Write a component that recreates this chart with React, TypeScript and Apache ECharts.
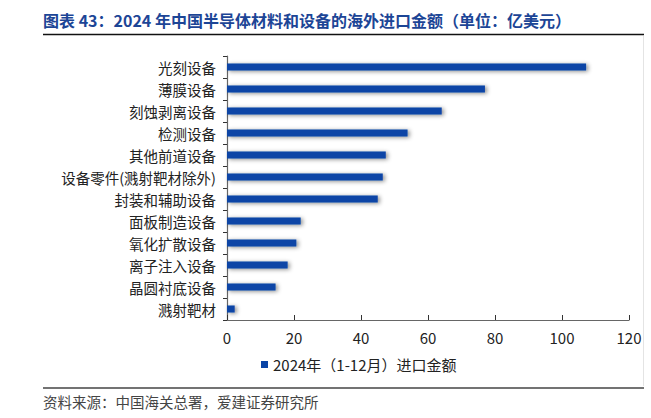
import React, { useEffect, useRef } from "react";
import * as echarts from "echarts";

const categories = [
  "光刻设备",
  "薄膜设备",
  "刻蚀剥离设备",
  "检测设备",
  "其他前道设备",
  "设备零件(溅射靶材除外)",
  "封装和辅助设备",
  "面板制造设备",
  "氧化扩散设备",
  "离子注入设备",
  "晶圆衬底设备",
  "溅射靶材",
];
const values = [107.2, 77.0, 64.1, 53.9, 47.4, 46.5, 45.0, 22.0, 20.7, 18.1, 14.5, 2.3];
const seriesName = "2024年（1-12月）进口金额";
const xTicks = [0, 20, 40, 60, 80, 100, 120];
const titleText = "图表 43：2024 年中国半导体材料和设备的海外进口金额（单位：亿美元）";
const sourceText = "资料来源：中国海关总署，爱建证券研究所";

const FONT = "'Noto Sans CJK SC', 'Microsoft YaHei', sans-serif";

export default function App() {
  const ref = useRef<HTMLDivElement>(null);
  useEffect(() => {
    if (!ref.current) return;
    const chart = echarts.init(ref.current, undefined, { renderer: "svg" });
    chart.setOption({
      animation: false,
      backgroundColor: "#ffffff",
      textStyle: { fontFamily: FONT },
      grid: { left: 227, right: 22, top: 56, bottom: 98, containLabel: false },
      legend: {
        data: [seriesName],
        left: 256,
        top: 352,
        icon: "rect",
        itemWidth: 7,
        itemHeight: 7,
        itemGap: 6,
        textStyle: { fontSize: 15, color: "#222", fontFamily: FONT },
      },
      xAxis: {
        type: "value",
        min: xTicks[0],
        max: xTicks[xTicks.length - 1],
        interval: 20,
        axisLine: { show: true, lineStyle: { color: "#666", width: 1.2 } },
        axisTick: { show: true, inside: true, length: 5, lineStyle: { color: "#333" } },
        splitLine: { show: false },
        axisLabel: { fontSize: 15, color: "#222", margin: 10, fontFamily: FONT },
      },
      yAxis: {
        type: "category",
        inverse: true,
        data: categories,
        axisLine: { show: true, lineStyle: { color: "#666", width: 1.2 } },
        axisTick: { show: true, inside: false, length: 4, lineStyle: { color: "#333" } },
        axisLabel: { fontSize: 14.5, color: "#222", margin: 11, fontFamily: FONT },
      },
      series: [
        {
          name: seriesName,
          type: "bar",
          data: values,
          barWidth: 7,
          itemStyle: {
            color: "#0a44a6",
            shadowBlur: 4,
            shadowColor: "rgba(0,0,0,0.45)",
            shadowOffsetX: 2,
            shadowOffsetY: 1,
          },
        },
      ],
      graphic: [
        {
          type: "text",
          left: 43,
          top: 12,
          style: {
            text: titleText,
            fontSize: 16,
            fontWeight: "bold",
            fill: "#1c4596",
            fontFamily: FONT,
          },
        },
        {
          type: "line",
          shape: { x1: 43, y1: 34.5, x2: 644, y2: 34.5 },
          style: { stroke: "#111", lineWidth: 1.5 },
        },
        {
          type: "line",
          shape: { x1: 643.5, y1: 36, x2: 643.5, y2: 386 },
          style: { stroke: "#e4e4e4", lineWidth: 1 },
        },
        {
          type: "line",
          shape: { x1: 43, y1: 388, x2: 644, y2: 388 },
          style: { stroke: "#444", lineWidth: 1.5 },
        },
        {
          type: "text",
          left: 43,
          top: 394,
          style: {
            text: sourceText,
            fontSize: 14.5,
            fill: "#444",
            fontFamily: FONT,
          },
        },
      ],
    });
    return () => chart.dispose();
  }, []);
  return (
    <div
      ref={ref}
      style={{ position: "fixed", left: 0, top: 0, width: 651, height: 418 }}
    />
  );
}
